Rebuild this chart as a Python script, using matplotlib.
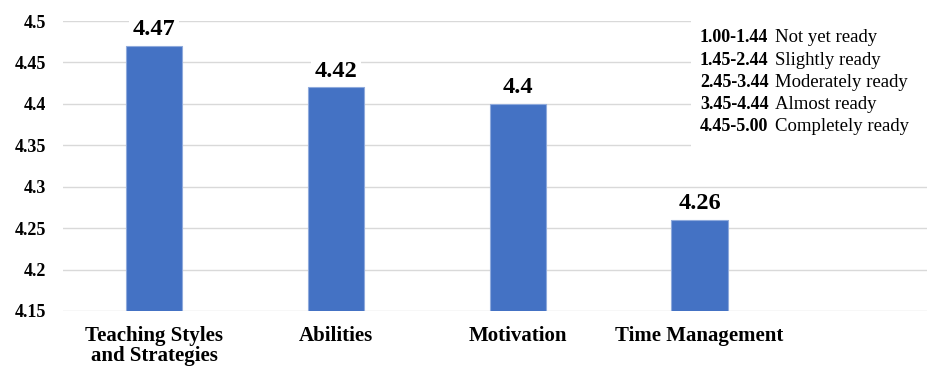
import matplotlib.pyplot as plt
from matplotlib.patches import Rectangle

# readiness means per dimension
categories = ["Teaching Styles\nand Strategies", "Abilities", "Motivation", "Time Management"]
means = [4.47, 4.42, 4.40, 4.26]
yticks = [4.15, 4.2, 4.25, 4.3, 4.35, 4.4, 4.45, 4.5]
ytick_labels = ["4.15", "4.2", "4.25", "4.3", "4.35", "4.4", "4.45", "4.5"]

scale_ranges = ["1.00-1.44", "1.45-2.44", "2.45-3.44", "3.45-4.44", "4.45-5.00"]
scale_names = ["Not yet ready", "Slightly ready", "Moderately ready", "Almost ready", "Completely ready"]

plt.rcParams["font.family"] = "serif"
plt.rcParams["font.serif"] = ["Liberation Serif", "DejaVu Serif"]
BLUE = "#4472C4"

fig = plt.figure(figsize=(9.27, 3.72), dpi=100)
ax = fig.add_axes([0.068, 0.164, 0.932, 0.7795])

xs = list(range(len(categories)))
ax.bar(xs, means, width=0.31, color=BLUE, edgecolor="#8faadc", linewidth=0.8, zorder=3)

ax.set_xlim(-0.5, 4.25)
ax.set_ylim(4.15, 4.5)
ax.set_yticks(yticks)
ax.set_yticklabels(ytick_labels, fontweight="bold", fontsize=13)
ax.set_xticks(xs)
ax.set_xticklabels(categories, fontweight="bold", fontsize=15, linespacing=1.0, va="top")
ax.tick_params(axis="both", length=0)
ax.tick_params(axis="x", pad=11)
ax.tick_params(axis="y", pad=12)
for s in ax.spines.values():
    s.set_visible(False)
ax.grid(axis="y", color="#d9d9d9", linewidth=1.0, zorder=0)
ax.set_axisbelow(True)

# value labels sit on white boxes, hiding the grid behind them
for x, v in zip(xs, means):
    ax.annotate(f"{v:g}", (x, v), xytext=(0, 4), textcoords="offset points",
                ha="center", va="bottom", fontweight="bold", fontsize=17.5,
                bbox=dict(boxstyle="square,pad=0.15", fc="white", ec="none"), zorder=4)

# scale key in the top right corner, on a white patch over the grid
fig.patches.append(Rectangle((0.745, 0.6), 0.255, 0.37, transform=fig.transFigure,
                             fc="white", ec="none", zorder=5))
y0 = 0.898
for i, (r, n) in enumerate(zip(scale_ranges, scale_names)):
    y = y0 - i * 0.0598
    fig.text(0.755, y, r, fontweight="bold", fontsize=13, va="center", zorder=6)
    fig.text(0.836, y, n, fontsize=13.5, va="center", zorder=6)

fig.savefig("out.png", dpi=100)
